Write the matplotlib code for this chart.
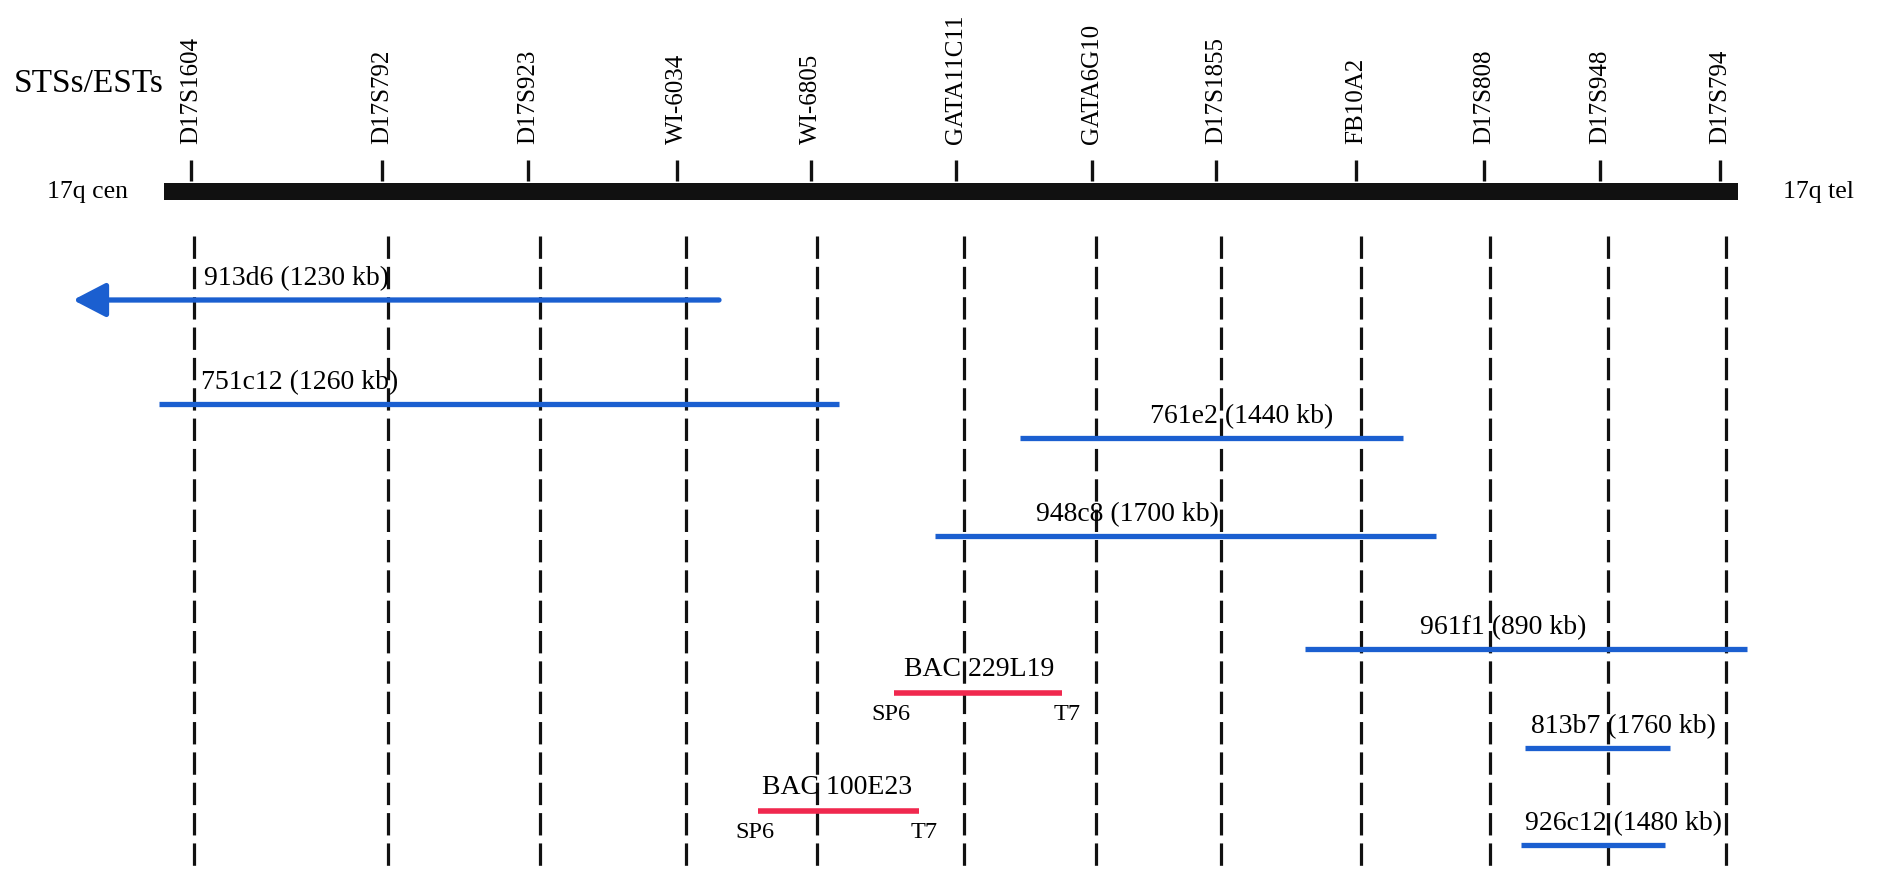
import matplotlib.pyplot as plt
from matplotlib.patches import Rectangle

plt.rcParams["font.family"] = ["Liberation Serif", "DejaVu Serif"]

# map coordinates (pixel-like units along the 17q region, cen -> tel)
MAP_START = 164
MAP_END = 1738

markers = [
    "D17S1604", "D17S792", "D17S923", "WI-6034", "WI-6805", "GATA11C11",
    "GATA6G10", "D17S1855", "FB10A2", "D17S808", "D17S948", "D17S794",
]
marker_pos = [191, 382, 528, 677, 811, 956, 1092, 1216, 1356, 1484, 1600, 1720]
# the guide lines below the bar sit a little to the right of the ticks in the scan
guide_pos = [194, 388, 540, 686, 817, 964, 1096, 1221, 1361, 1490, 1608, 1726]

yac_names = ["913d6", "751c12", "761e2", "948c8", "961f1", "813b7", "926c12"]
yac_sizes_kb = [1230, 1260, 1440, 1700, 890, 1760, 1480]
yac_start = [73, 159, 1020, 935, 1305, 1525, 1521]
yac_end = [719, 839, 1403, 1436, 1747, 1670, 1665]
yac_open_left = [True, False, False, False, False, False, False]

bac_names = ["BAC 229L19", "BAC 100E23"]
bac_start = [894, 758]
bac_end = [1062, 919]

# layout
yac_y = [300, 404, 438, 536, 649, 748, 845]
yac_label_x = [204, 201, 1150, 1036, 1420, 1531, 1525]
bac_y = [693, 811]
bac_label_x = [904, 762]

BLUE = "#1b5fd0"
RED = "#f0284e"
INK = "#111111"

fig = plt.figure(figsize=(18.77, 8.69), dpi=100)
ax = fig.add_axes([0, 0, 1, 1])
ax.set_xlim(0, 1877)
ax.set_ylim(869, 0)
ax.axis("off")

# chromosome bar
ax.add_patch(Rectangle((MAP_START, 183), MAP_END - MAP_START, 17,
                       facecolor=INK, edgecolor="none"))
ax.text(47, 192, "17q cen", fontsize=18.5, ha="left", va="center")
ax.text(1783, 192, "17q tel", fontsize=18.5, ha="left", va="center")
ax.text(14, 84, "STSs/ESTs", fontsize=24, ha="left", va="center")

# markers
ax.vlines(marker_pos, 160, 181, color=INK, lw=2.4)
for name, x in zip(markers, marker_pos):
    ax.text(x, 144, name, rotation=90, fontsize=18, ha="center", va="bottom")
ax.vlines(guide_pos, 236, 866, color=INK, lw=2.3,
          linestyles=(0, (7.0, 2.5)))

# YAC clones
for name, kb, x0, x1, y, lx, open_left in zip(
        yac_names, yac_sizes_kb, yac_start, yac_end, yac_y, yac_label_x,
        yac_open_left):
    if open_left:
        ax.annotate("", xy=(x0, y), xytext=(x1, y),
                    arrowprops=dict(arrowstyle="-|>,head_length=1.0,head_width=0.52",
                                    mutation_scale=20, lw=3.8, color=BLUE,
                                    shrinkA=0, shrinkB=0))
    else:
        ax.plot([x0, x1], [y, y], color=BLUE, lw=3.8, solid_capstyle="butt")
    ax.text(lx, y - 21, f"{name} ({kb} kb)", fontsize=20, ha="left", va="center")

# BAC clones with end labels
for name, x0, x1, y, lx in zip(bac_names, bac_start, bac_end, bac_y, bac_label_x):
    ax.plot([x0, x1], [y, y], color=RED, lw=4.0, solid_capstyle="butt")
    ax.text(lx, y - 23, name, fontsize=20, ha="left", va="center")
    ax.text(x0 - 3, y + 21, "SP6", fontsize=17.5, ha="center", va="center")
    ax.text(x1 + 5, y + 22, "T7", fontsize=17.5, ha="center", va="center")

fig.savefig("out.png", dpi=100)
